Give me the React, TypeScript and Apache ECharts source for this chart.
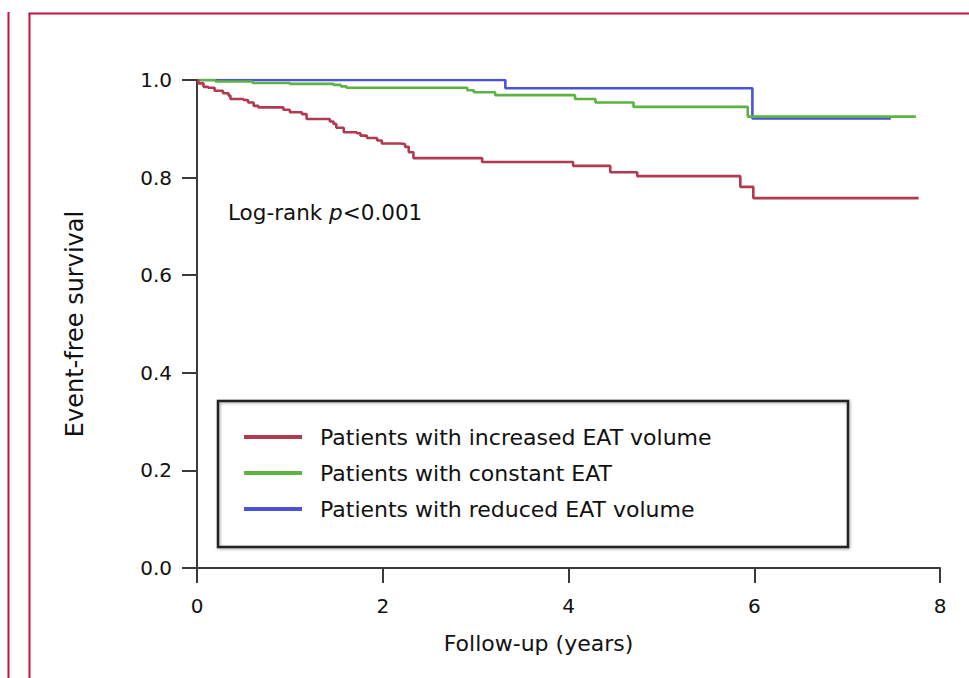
import React, { useEffect, useRef } from "react";
import * as echarts from "echarts";

const xTicks = [0, 2, 4, 6, 8];
const yTicks = [0, 0.2, 0.4, 0.6, 0.8, 1.0];

const seriesNames = [
  "Patients with increased EAT volume",
  "Patients with constant EAT",
  "Patients with reduced EAT volume",
];

const redTime = [0, 0.014, 0.07, 0.12, 0.19, 0.28, 0.34, 0.36, 0.5, 0.55, 0.61, 0.66, 0.93, 1.0, 1.13, 1.18, 1.43, 1.47, 1.5, 1.58, 1.72, 1.76, 1.83, 1.94, 1.99, 2.19, 2.24, 2.28, 2.33, 3.07, 4.05, 4.45, 4.74, 5.85, 5.99, 7.77];
const redSurv = [1.0, 0.993, 0.986, 0.984, 0.978, 0.973, 0.968, 0.961, 0.959, 0.954, 0.947, 0.944, 0.939, 0.934, 0.93, 0.92, 0.915, 0.91, 0.902, 0.893, 0.891, 0.886, 0.881, 0.876, 0.87, 0.869, 0.863, 0.852, 0.84, 0.832, 0.824, 0.811, 0.803, 0.781, 0.758, 0.758];

const greenTime = [0, 0.2, 0.6, 1.0, 1.47, 1.55, 1.61, 2.91, 2.98, 3.21, 4.07, 4.29, 4.7, 5.93, 7.74];
const greenSurv = [1.0, 0.997, 0.994, 0.992, 0.99, 0.987, 0.984, 0.979, 0.975, 0.969, 0.961, 0.954, 0.945, 0.925, 0.925];

const blueTime = [0, 3.32, 5.98, 7.47];
const blueSurv = [1.0, 0.983, 0.921, 0.921];

const colors = ["#b23a50", "#5cb344", "#4a52dc"];
const FONT = "'DejaVu Sans', 'Open Sans', sans-serif";

export default function App() {
  const ref = useRef<HTMLDivElement>(null);
  useEffect(() => {
    if (!ref.current) return;
    const chart = echarts.init(ref.current, undefined, { renderer: "svg" });
    const mk = (t: number[], s: number[]) => t.map((x, i) => [x, s[i]]);
    const datasets = [mk(redTime, redSurv), mk(greenTime, greenSurv), mk(blueTime, blueSurv)];
    const frame = "#c2143e";
    chart.setOption({
      animation: false,
      backgroundColor: "#ffffff",
      textStyle: { fontFamily: FONT },
      grid: { left: 197, right: 29, top: 80, bottom: 110 },
      xAxis: {
        type: "value",
        min: xTicks[0],
        max: xTicks[xTicks.length - 1],
        interval: 2,
        name: "Follow-up (years)",
        nameLocation: "middle",
        nameGap: 64,
        nameTextStyle: { fontSize: 22, color: "#111", fontFamily: FONT, padding: [0, 60, 0, 0] },
        axisLine: { show: true, lineStyle: { color: "#3a3a3a", width: 2 } },
        axisTick: { show: true, length: 15, lineStyle: { color: "#3a3a3a", width: 2 } },
        axisLabel: { fontSize: 20, color: "#111", margin: 28, fontFamily: FONT },
        splitLine: { show: false },
      },
      yAxis: {
        type: "value",
        min: yTicks[0],
        max: yTicks[yTicks.length - 1],
        interval: 0.2,
        name: "Event-free survival",
        nameLocation: "middle",
        nameGap: 110,
        nameTextStyle: { fontSize: 24, color: "#111", fontFamily: FONT },
        axisLine: { show: true, lineStyle: { color: "#3a3a3a", width: 2 } },
        axisTick: { show: true, length: 15, lineStyle: { color: "#3a3a3a", width: 2 } },
        axisLabel: {
          fontSize: 20,
          color: "#111",
          margin: 25,
          fontFamily: FONT,
          formatter: (v: number) => v.toFixed(1),
        },
        splitLine: { show: false },
      },
      legend: {
        orient: "vertical",
        left: 244,
        top: 426,
        padding: 0,
        icon: "rect",
        itemWidth: 58,
        itemHeight: 4,
        itemGap: 14,
        data: seriesNames,
        selectedMode: false,
        textStyle: { fontSize: 22, color: "#111", fontFamily: FONT, padding: [0, 0, 0, 13], lineHeight: 22 },
      },
      graphic: [
        { type: "line", shape: { x1: 8.5, y1: 12, x2: 8.5, y2: 678 }, style: { stroke: frame, lineWidth: 2 }, silent: true },
        { type: "line", shape: { x1: 29.5, y1: 13, x2: 29.5, y2: 678 }, style: { stroke: frame, lineWidth: 2 }, silent: true },
        { type: "line", shape: { x1: 28.5, y1: 13.5, x2: 969, y2: 13.5 }, style: { stroke: frame, lineWidth: 2 }, silent: true },
        {
          type: "rect",
          shape: { x: 218, y: 401, width: 630, height: 146 },
          style: { fill: "none", stroke: "#222", lineWidth: 2.5, shadowBlur: 3, shadowColor: "rgba(0,0,0,0.35)", shadowOffsetX: 1, shadowOffsetY: 1 },
          silent: true,
        },
        {
          type: "text",
          left: 228,
          top: 201,
          style: {
            text: "{a|Log-rank }{b|p}{a|<0.001}",
            rich: {
              a: { fontSize: 21.5, fill: "#111", fontFamily: FONT },
              b: { fontSize: 21.5, fill: "#111", fontFamily: FONT, fontStyle: "italic" },
            },
          },
          silent: true,
        },
      ],
      series: datasets.map((d, i) => ({
        name: seriesNames[i],
        type: "line",
        step: "end",
        data: d,
        showSymbol: false,
        symbol: "none",
        color: colors[i],
        lineStyle: { width: 2.6, color: colors[i] },
        z: 3 - i + 2,
      })),
    });
    return () => chart.dispose();
  }, []);
  return <div ref={ref} style={{ position: "absolute", left: 0, top: 0, width: 969, height: 678 }} />;
}
